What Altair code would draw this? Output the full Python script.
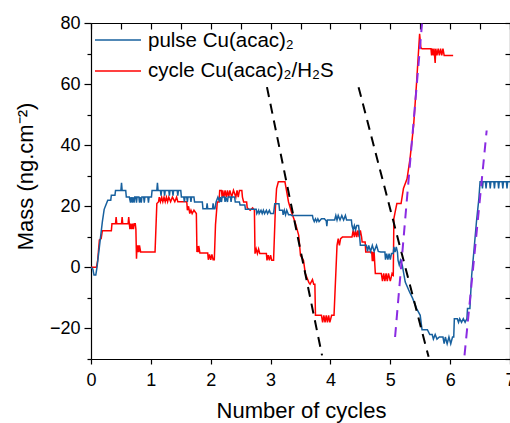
import altair as alt
import pandas as pd

FONT = "Liberation Sans"
BLUE = "#17609e"
RED = "#ff0000"
PURPLE = "#8a2be2"

# pulse Cu(acac)2 trace (x = number of cycles, y = mass ng/cm2)
blue_points = [
    (0.00, 0), (0.03, -0.5), (0.05, -2.5), (0.08, -2.5), (0.10, 0), (0.13, 5), (0.16, 10),
    (0.19, 15), (0.22, 19), (0.25, 20.5), (0.28, 22), (0.33, 22), (0.34, 23.6), (0.40, 23.6),
    (0.41, 25.2), (0.50, 25.2), (0.51, 27.7), (0.52, 25.2), (0.58, 25.2), (0.59, 23), (0.64, 23),
    (0.66, 21.2), (0.67, 23), (0.69, 21.2), (0.70, 23), (0.72, 21.2), (0.73, 23), (0.75, 23),
    (0.76, 21.2), (0.77, 23), (0.80, 23), (0.81, 21.2), (0.82, 23), (0.84, 21.2), (0.85, 23),
    (0.88, 23), (0.89, 21.2), (0.90, 23), (0.95, 23), (0.96, 21.2), (0.97, 23), (1.01, 23),
    (1.02, 25.2), (1.10, 25.2), (1.11, 27.7), (1.12, 25.2), (1.16, 25.2), (1.17, 23.5), (1.18, 25.2),
    (1.22, 25.2), (1.23, 23.5), (1.24, 25.2), (1.30, 25.2), (1.31, 23.5), (1.32, 25.2), (1.36, 25.2),
    (1.37, 23.5), (1.38, 25.2), (1.44, 25.2), (1.45, 23.5), (1.46, 25.2), (1.50, 25.2),
    (1.51, 23), (1.55, 23), (1.56, 21.4), (1.57, 23), (1.60, 23), (1.61, 21.4), (1.62, 23),
    (1.66, 23), (1.67, 21.4), (1.68, 23), (1.72, 23), (1.73, 21.4), (1.86, 21.4), (1.87, 19.2),
    (1.93, 19.2), (1.94, 21), (1.95, 19.2), (2.03, 19.2), (2.04, 21), (2.05, 19.2), (2.07, 19.2),
    (2.09, 21.4), (2.12, 23), (2.15, 21.4), (2.16, 23), (2.18, 21.4), (2.19, 23), (2.23, 23),
    (2.24, 21.4), (2.25, 23), (2.28, 21.4), (2.29, 23), (2.33, 23), (2.34, 21.4), (2.35, 23),
    (2.40, 23), (2.41, 21.4), (2.48, 21.4), (2.49, 20.4), (2.57, 20.4), (2.58, 19), (2.76, 19),
    (2.77, 17.6), (2.80, 18.7), (2.81, 17.6), (2.84, 18.7), (2.86, 17.6), (2.88, 18.7), (2.90, 17.6),
    (2.93, 18.7), (2.95, 17.6), (2.98, 18.7), (3.00, 17.6), (3.05, 17.6), (3.07, 20.8), (3.14, 20.8),
    (3.15, 18.7), (3.20, 18.7), (3.21, 17.2), (3.23, 18.7), (3.25, 17.2), (3.27, 18.7), (3.30, 17.2),
    (3.34, 17.2), (3.35, 17), (3.70, 17), (3.71, 15.9), (3.73, 15), (3.75, 15.9), (3.77, 15),
    (3.79, 15.9), (3.81, 15), (3.85, 15.9), (3.90, 15.9), (3.93, 15.2), (3.94, 13.5), (3.95, 15.5),
    (4.07, 15.5), (4.09, 17), (4.11, 15.5), (4.13, 17), (4.16, 15.5), (4.19, 17), (4.22, 15.5),
    (4.25, 17), (4.27, 15.5), (4.35, 15.5), (4.36, 13.7), (4.38, 12.3), (4.40, 13.7), (4.42, 12.3),
    (4.44, 13.7), (4.47, 13.7), (4.48, 12), (4.50, 7.2), (4.60, 7.2), (4.62, 5.2), (4.64, 7.2),
    (4.67, 5.2), (4.70, 7.2), (4.73, 5.2), (4.77, 7.2), (4.80, 5.2), (4.84, 5), (4.91, 5),
    (4.92, 2.5), (4.94, 4.5), (4.96, 2.5), (4.98, 4.5), (5.00, 2.5), (5.02, 4.5), (5.05, 4.5),
    (5.06, 6.7), (5.08, 5), (5.10, 6.7), (5.12, 5), (5.13, 2.3), (5.15, 0.8), (5.17, 2.3),
    (5.20, 0.7), (5.25, -4.8), (5.32, -8), (5.37, -10), (5.44, -13.5), (5.50, -15.7), (5.53, -20.4),
    (5.62, -20.4), (5.66, -22), (5.70, -22), (5.72, -23.5), (5.75, -22), (5.78, -23.5), (5.82, -22.8),
    (5.88, -22.8), (5.90, -25), (5.92, -22.8), (5.95, -25), (5.98, -22.8), (6.01, -25), (6.04, -22.8),
    (6.06, -22.8), (6.07, -16.8), (6.12, -16.8), (6.14, -18), (6.16, -16.8), (6.19, -18), (6.22, -16.8),
    (6.25, -18), (6.28, -16.8), (6.29, -13.5), (6.33, -13.5), (6.36, -2.6), (6.40, 6), (6.44, 15),
    (6.48, 22.5), (6.50, 28), (6.53, 28), (6.54, 25.8), (6.55, 28), (6.59, 28), (6.60, 25.8),
    (6.61, 28), (6.66, 28), (6.67, 25.8), (6.68, 28), (6.73, 28), (6.74, 25.8), (6.75, 28),
    (6.80, 28), (6.81, 25.8), (6.82, 28), (6.87, 28), (6.88, 25.8), (6.89, 28), (6.94, 28),
    (6.95, 25.8), (6.96, 28), (7.00, 28),
]

# cycle Cu(acac)2/H2S trace
red_points = [
    (0.00, 0), (0.09, 0), (0.11, 2), (0.14, 9), (0.17, 9.4), (0.19, 12), (0.34, 12), (0.35, 14.3),
    (0.41, 14.3), (0.42, 16.5), (0.43, 14.3), (0.51, 14.3), (0.52, 16.5), (0.53, 14.3), (0.62, 14.3),
    (0.63, 16.5), (0.64, 14.3), (0.65, 12.5), (0.66, 14.3), (0.68, 12.5), (0.69, 14.3), (0.71, 12.5),
    (0.72, 14.3), (0.74, 14.3), (0.75, 12.5), (0.76, 2.8), (0.77, 7.2), (0.78, 5), (0.79, 7.2),
    (0.80, 5), (0.81, 7.2), (0.83, 5), (1.07, 5), (1.10, 20.9), (1.13, 21.5), (1.14, 23),
    (1.16, 21.5), (1.18, 23), (1.20, 21.5), (1.22, 23), (1.24, 21.5), (1.26, 23), (1.28, 21.5),
    (1.30, 23), (1.33, 21.5), (1.36, 23), (1.40, 21.5), (1.43, 23), (1.45, 21.5), (1.60, 21.5),
    (1.61, 18.7), (1.63, 20), (1.65, 17.6), (1.67, 18.7), (1.69, 17.6), (1.72, 18.7), (1.76, 17.6),
    (1.77, 5), (1.78, 7), (1.79, 5), (1.80, 7), (1.82, 4.7), (1.95, 4.7), (1.96, 2.5), (1.98, 4.2),
    (2.00, 2.5), (2.02, 4.2), (2.04, 2.5), (2.06, 2.5), (2.08, 14), (2.11, 21.4), (2.14, 21.4),
    (2.15, 25.2), (2.18, 25.2), (2.19, 23), (2.20, 25.2), (2.22, 23), (2.24, 25.2), (2.26, 23),
    (2.28, 25.2), (2.30, 23), (2.32, 25.2), (2.35, 23), (2.38, 25.2), (2.42, 23), (2.44, 25.2),
    (2.46, 23), (2.48, 25.2), (2.52, 25.2), (2.53, 23), (2.55, 21.4), (2.60, 21.4), (2.61, 19.5),
    (2.66, 18.7), (2.70, 19.5), (2.73, 18.7), (2.74, 4.5), (2.76, 6), (2.78, 4.5), (2.80, 6),
    (2.82, 4.5), (2.93, 4.5), (2.94, 2.3), (2.96, 4), (2.98, 2.3), (3.00, 4), (3.02, 2.3),
    (3.05, 2.3), (3.08, 19.2), (3.10, 25.8), (3.13, 28), (3.24, 28), (3.27, 24.7), (3.30, 21.4),
    (3.35, 18), (3.41, 14.8), (3.47, 10.5), (3.50, 3.9), (3.55, 2.3), (3.58, -2), (3.64, -5),
    (3.66, -5.5), (3.70, -4), (3.72, -5.5), (3.74, -5.5), (3.75, -15.7), (3.85, -15.7), (3.87, -18),
    (3.89, -15.7), (3.91, -18), (3.93, -15.7), (3.95, -18), (3.97, -15.7), (3.99, -18), (4.02, -15.7),
    (4.06, -15.7), (4.11, 7.2), (4.13, 9.4), (4.15, 7.2), (4.17, 9.4), (4.20, 9.9), (4.36, 9.9),
    (4.38, 12.1), (4.40, 9.9), (4.42, 12.1), (4.44, 9.9), (4.46, 12.1), (4.48, 9.9), (4.50, 12.1),
    (4.52, 10), (4.53, 8.3), (4.58, 8.3), (4.59, 5), (4.69, 5), (4.70, 2), (4.71, 5), (4.72, 2),
    (4.73, 5), (4.75, -2), (4.85, -2), (4.87, -4.5), (4.89, -2), (4.91, -4.5), (4.93, -2),
    (4.95, -4.5), (4.97, -2), (5.00, -4.5), (5.03, -2), (5.05, -2.5), (5.06, 16), (5.08, 18),
    (5.11, 20.9), (5.18, 20.9), (5.22, 25.8), (5.28, 29), (5.33, 35.6), (5.39, 46.5), (5.44, 60.7),
    (5.49, 76.5), (5.51, 72), (5.53, 71.6), (5.68, 71.6), (5.69, 69.4), (5.70, 71.6), (5.72, 69.4),
    (5.73, 71.6), (5.75, 66.9), (5.76, 71.6), (5.78, 69.4), (5.80, 71.6), (5.82, 69.4), (5.84, 71.6),
    (5.86, 69.4), (5.88, 71.6), (5.90, 69.4), (6.05, 69.4),
]

# dashed guide lines: (segment, x, y)
black_guides = [("a", 2.94, 59), ("a", 3.86, -28.8), ("b", 4.47, 59), ("b", 5.64, -29.3)]
purple_guides = [("c", 5.08, -22.8), ("c", 5.53, 79.8), ("d", 6.24, -28.8), ("d", 6.61, 44.8)]

legend_labels = ["pulse Cu(acac)\u2082", "cycle Cu(acac)\u2082/H\u2082S"]
x_ticks = [0, 0.5, 1, 1.5, 2, 2.5, 3, 3.5, 4, 4.5, 5, 5.5, 6, 6.5, 7]
y_ticks = [-30, -20, -10, 0, 10, 20, 30, 40, 50, 60, 70, 80]

blue_df = pd.DataFrame(blue_points, columns=["x", "y"])
red_df = pd.DataFrame(red_points, columns=["x", "y"])
black_df = pd.DataFrame(black_guides, columns=["seg", "x", "y"])
purple_df = pd.DataFrame(purple_guides, columns=["seg", "x", "y"])

xscale = alt.Scale(domain=[0, 7], nice=False, zero=False)
yscale = alt.Scale(domain=[-30, 80], nice=False, zero=False)

x_main = alt.Axis(
    orient="bottom", values=x_ticks, format="d",
    labelExpr="datum.value % 1 === 0 ? datum.label : ''",
    tickSize={"condition": {"test": "datum.value % 1 === 0", "value": 5}, "value": 3},
    labelPadding=7, labelFontSize=18, labelFont=FONT, labelColor="black",
    labelFlush=False, labelOverlap=False,
    title="Number of cycles", titleFont=FONT, titleFontSize=22, titleFontWeight="normal",
    titleColor="black", titleX=210, titleY=58, titleAlign="center", titleBaseline="alphabetic",
    grid=False, domainColor="black", tickColor="black", domainWidth=1.2, tickWidth=1.2,
)
y_main = alt.Axis(
    orient="left", values=y_ticks, format="d",
    labelExpr="datum.value % 20 === 0 ? datum.label : ''",
    tickSize={"condition": {"test": "datum.value % 20 === 0", "value": 7}, "value": 4},
    labelPadding=4, labelFontSize=18, labelFont=FONT, labelColor="black",
    labelFlush=False, labelOverlap=False,
    title="Mass (ng.cm\u207b\u00b2)", titleFont=FONT, titleFontSize=22, titleFontWeight="normal",
    titleColor="black", titleAngle=270, titleX=-59, titleY=153, titleAlign="center",
    titleBaseline="alphabetic",
    grid=False, domainColor="black", tickColor="black", domainWidth=1.2, tickWidth=1.2,
)
x_top = alt.Axis(
    orient="top", values=x_ticks, labels=False, title=None, grid=False,
    tickSize={"expr": "-6"}, domainColor="black", tickColor="black", domainWidth=1.2, tickWidth=1.2,
)
y_right = alt.Axis(
    orient="right", values=y_ticks, labels=False, title=None, grid=False,
    tickSize={"expr": "-5"}, domainColor="black", tickColor="black", domainWidth=1.2, tickWidth=1.2,
)

red_line = alt.Chart(red_df).mark_line(color=RED, strokeWidth=1.5).encode(
    x=alt.X("x:Q", scale=xscale, axis=None),
    y=alt.Y("y:Q", scale=yscale, axis=None),
    order="x:Q",
)
blue_line = alt.Chart(blue_df).mark_line(color=BLUE, strokeWidth=1.5).encode(
    x=alt.X("x:Q", scale=xscale, axis=x_main),
    y=alt.Y("y:Q", scale=yscale, axis=y_main),
    order="x:Q",
)
black_line = alt.Chart(black_df).mark_line(color="black", strokeWidth=2, strokeDash=[10, 7]).encode(
    x=alt.X("x:Q", scale=xscale, axis=x_top),
    y=alt.Y("y:Q", scale=yscale, axis=y_right),
    detail="seg:N",
)
purple_line = alt.Chart(purple_df).mark_line(color=PURPLE, strokeWidth=2, strokeDash=[10, 7]).encode(
    x=alt.X("x:Q", scale=xscale, axis=None),
    y=alt.Y("y:Q", scale=yscale, axis=None),
    detail="seg:N",
)

leg1_df = pd.DataFrame({"label": [legend_labels[0]]})
leg2_df = pd.DataFrame({"label": [legend_labels[1]]})
leg1_rule = alt.Chart(leg1_df).mark_rule(color=BLUE, strokeWidth=1.5).encode(
    x=alt.value(4), x2=alt.value(50), y=alt.value(17))
leg2_rule = alt.Chart(leg2_df).mark_rule(color=RED, strokeWidth=1.5).encode(
    x=alt.value(4), x2=alt.value(50), y=alt.value(48))
leg1_text = alt.Chart(leg1_df).mark_text(
    align="left", baseline="alphabetic", font=FONT, fontSize=20.5, color="black"
).encode(x=alt.value(57), y=alt.value(23.5), text="label:N")
leg2_text = alt.Chart(leg2_df).mark_text(
    align="left", baseline="alphabetic", font=FONT, fontSize=20.5, color="black"
).encode(x=alt.value(57), y=alt.value(54), text="label:N")

chart = alt.layer(
    red_line, blue_line, black_line, purple_line,
    leg1_rule, leg2_rule, leg1_text, leg2_text,
).resolve_axis(
    x="independent", y="independent"
).properties(
    width=419, height=336,
    padding={"left": 91, "top": 23, "right": 0, "bottom": 64},
    autosize=alt.AutoSizeParams(type="none"),
).configure_view(stroke=None).configure(background="white")

chart.save("out.html", embed_options={"renderer": "svg", "actions": False})
